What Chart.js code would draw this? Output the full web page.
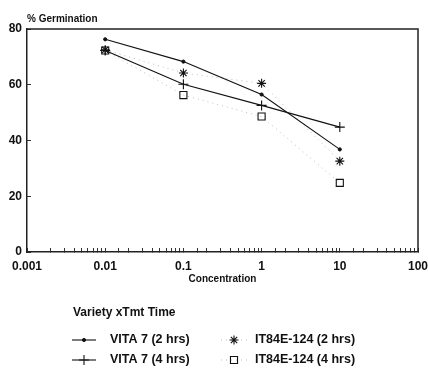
<!DOCTYPE html>
<html><head><meta charset="utf-8">
<script src="https://cdn.jsdelivr.net/npm/chart.js@4/dist/chart.umd.min.js"></script>
<style>html,body{margin:0;padding:0;background:#fff}#wrap{width:428px;height:369px}</style>
</head><body><div id="wrap"><canvas id="c" width="428" height="369"></canvas></div>
<script>
const concentrations = [0.01, 0.1, 1, 10];
const vita7_2h = [76.3, 68.3, 56.5, 36.8];
const vita7_4h = [72.3, 60.2, 52.6, 44.8];
const it84e_2h = [72.5, 64.2, 60.5, 32.6];
const it84e_4h = [72.3, 56.3, 48.6, 24.8];
const seriesNames = ['VITA 7 (2 hrs)', 'VITA 7 (4 hrs)', 'IT84E-124 (2 hrs)', 'IT84E-124 (4 hrs)'];
const xTickLabels = ['0.001', '0.01', '0.1', '1', '10', '100'];
const yTickLabels = [0, 20, 40, 60, 80];
const yTitle = '% Germination';
const xTitle = 'Concentration';
const legendTitle = 'Variety xTmt Time';

const FONT = '"Liberation Sans", Arial, sans-serif';
const pts = arr => arr.map((v, i) => ({x: concentrations[i], y: v}));

const datasets = [
  {label: seriesNames[0], data: pts(vita7_2h), borderColor: '#111', backgroundColor: '#111', borderWidth: 1.1,
   pointStyle: 'circle', pointRadius: 1.6, pointBorderWidth: 1},
  {label: seriesNames[1], data: pts(vita7_4h), borderColor: '#111', backgroundColor: '#111', borderWidth: 1.1,
   pointStyle: 'cross', pointRadius: 5, pointBorderWidth: 1.1},
  {label: seriesNames[2], data: pts(it84e_2h), borderColor: '#bdbdbd', backgroundColor: '#111', borderWidth: 1,
   borderDash: [1, 4], pointStyle: 'star', pointRadius: 4.5, pointBorderColor: '#111', pointBorderWidth: 1.1},
  {label: seriesNames[3], data: pts(it84e_4h), borderColor: '#bdbdbd', backgroundColor: 'rgba(0,0,0,0)', borderWidth: 1,
   borderDash: [1, 4], pointStyle: 'rect', pointRadius: 5, pointBorderColor: '#111', pointBorderWidth: 1.1}
];

const extras = {
  id: 'extras',
  afterDraw(chart) {
    const ctx = chart.ctx, a = chart.chartArea;
    ctx.save();
    ctx.strokeStyle = '#222'; ctx.lineWidth = 1.5;
    ctx.beginPath();
    ctx.moveTo(a.left, a.top); ctx.lineTo(a.right, a.top); ctx.lineTo(a.right, a.bottom);
    ctx.stroke();
    ctx.fillStyle = '#111';
    ctx.textBaseline = 'middle'; ctx.textAlign = 'left';
    ctx.font = 'bold 10px ' + FONT;
    ctx.fillText(yTitle, 27, 19);
    ctx.font = 'bold 12px ' + FONT;
    ctx.fillText(legendTitle, 73, 313);
    const rows = [340, 360];
    const cols = [{x0: 72, x1: 96, tx: 110}, {x0: 221, x1: 247, tx: 255}];
    chart.data.datasets.forEach((ds, i) => {
      const col = cols[i >> 1], y = rows[i % 2];
      ctx.save();
      ctx.strokeStyle = ds.borderColor; ctx.lineWidth = ds.borderWidth;
      ctx.setLineDash(ds.borderDash || []);
      ctx.beginPath(); ctx.moveTo(col.x0, y); ctx.lineTo(col.x1, y); ctx.stroke();
      ctx.restore();
      ctx.save();
      ctx.strokeStyle = ds.pointBorderColor || ds.borderColor;
      ctx.fillStyle = ds.backgroundColor;
      ctx.lineWidth = ds.pointBorderWidth;
      Chart.helpers.drawPoint(ctx, {pointStyle: ds.pointStyle, radius: ds.pointRadius, borderWidth: ds.pointBorderWidth, rotation: 0}, (col.x0 + col.x1) / 2, y);
      ctx.restore();
      ctx.fillStyle = '#111';
      ctx.font = 'bold 12.5px ' + FONT;
      ctx.fillText(ds.label, col.tx, y);
    });
    ctx.restore();
  }
};

const isPow10 = v => Math.abs(Math.log10(v) - Math.round(Math.log10(v))) < 1e-6;

new Chart(document.getElementById('c'), {
  type: 'line',
  data: {datasets},
  options: {
    responsive: false, animation: false, devicePixelRatio: 1,
    layout: {padding: {top: 29, right: 10, bottom: 77, left: 0}},
    plugins: {legend: {display: false}, tooltip: {enabled: false}, title: {display: false}},
    scales: {
      x: {
        type: 'logarithmic', min: 0.001, max: 100,
        border: {display: true, color: '#222', width: 1.5},
        grid: {display: true, drawOnChartArea: false, drawTicks: true, tickLength: -4, color: '#333', lineWidth: 1},
        ticks: {
          autoSkip: false, maxRotation: 0, padding: 11, color: '#111',
          font: {family: FONT, size: 12, weight: 'bold'},
          callback: (v) => {
            if (!isPow10(v)) return '';
            const idx = Math.round(Math.log10(v)) + 3;
            return xTickLabels[idx] !== undefined ? xTickLabels[idx] : '';
          }
        },
        title: {display: true, text: xTitle, color: '#111', font: {family: FONT, size: 10, weight: 'bold'}, padding: {top: 0, bottom: 7}},
        afterFit: s => { s.height = 40; s.paddingLeft = 0; s.paddingRight = 0; }
      },
      y: {
        type: 'linear', min: 0, max: 80,
        border: {display: true, color: '#222', width: 1.5},
        grid: {display: true, drawOnChartArea: false, drawTicks: true, tickLength: -4, color: '#333'},
        afterBuildTicks: s => { s.ticks = yTickLabels.map(v => ({value: v})); },
        ticks: {padding: 9, color: '#111', font: {family: FONT, size: 12, weight: 'bold'}},
        afterFit: s => { s.width = 27; s.paddingTop = 0; s.paddingBottom = 0; }
      }
    }
  },
  plugins: [extras]
});
</script>
</body></html>
